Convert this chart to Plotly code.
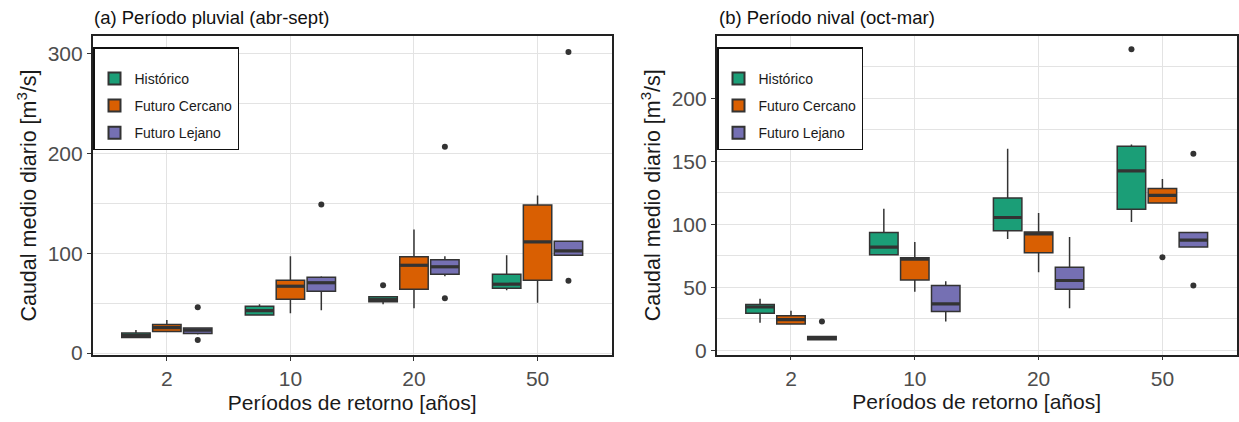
import plotly.graph_objects as go

# ---------------- data ----------------
periods = ["2", "10", "20", "50"]
series = ["Histórico", "Futuro Cercano", "Futuro Lejano"]
colors = ["#1B9E77", "#D95F02", "#7570B3"]

# (a) Período pluvial
pluv_hist_q1 = [15.5, 38, 51.5, 65]
pluv_hist_med = [17.5, 42.5, 53.5, 69]
pluv_hist_q3 = [20, 47, 56.5, 79]
pluv_hist_lo = [15, 37.5, 49, 63]
pluv_hist_hi = [23, 49, 57, 98]
pluv_hist_out = [[], [], [68], []]

pluv_cerc_q1 = [21.5, 54, 64, 73]
pluv_cerc_med = [25.5, 67, 88, 111.5]
pluv_cerc_q3 = [28.5, 73, 96.5, 148.5]
pluv_cerc_lo = [21, 40, 45, 50.5]
pluv_cerc_hi = [33, 97, 124, 158]
pluv_cerc_out = [[], [], [], []]

pluv_lej_q1 = [19.5, 62, 79, 98]
pluv_lej_med = [23, 70.5, 86.5, 102.5]
pluv_lej_q3 = [25, 76, 93.5, 112]
pluv_lej_lo = [18.5, 43, 77, 97.5]
pluv_lej_hi = [25.5, 77, 97, 112.5]
pluv_lej_out = [[46, 13], [149], [207, 55], [302, 72.5]]

# (b) Período nival
niv_hist_q1 = [29.5, 76, 95, 112]
niv_hist_med = [34.5, 82, 105.5, 142.5]
niv_hist_q3 = [36.5, 93.5, 121, 162]
niv_hist_lo = [22, 75.5, 88.5, 102]
niv_hist_hi = [41, 112.5, 160, 163.5]
niv_hist_out = [[], [], [], [239]]

niv_cerc_q1 = [21, 56, 77.5, 117]
niv_cerc_med = [24.5, 72.5, 92.5, 123]
niv_cerc_q3 = [27.5, 73.5, 94, 128.5]
niv_cerc_lo = [20.5, 46.5, 62, 116.5]
niv_cerc_hi = [31.5, 86, 109, 136]
niv_cerc_out = [[], [], [], [74]]

niv_lej_q1 = [8.5, 31, 48.5, 82]
niv_lej_med = [10, 37, 55.5, 87.5]
niv_lej_q3 = [11, 51.5, 66, 93.5]
niv_lej_lo = [8, 23, 33.5, 81.5]
niv_lej_hi = [11.5, 55, 90, 94]
niv_lej_out = [[23], [], [], [156, 51.5]]

pluvial = [
    (pluv_hist_q1, pluv_hist_med, pluv_hist_q3, pluv_hist_lo, pluv_hist_hi, pluv_hist_out),
    (pluv_cerc_q1, pluv_cerc_med, pluv_cerc_q3, pluv_cerc_lo, pluv_cerc_hi, pluv_cerc_out),
    (pluv_lej_q1, pluv_lej_med, pluv_lej_q3, pluv_lej_lo, pluv_lej_hi, pluv_lej_out),
]
nival = [
    (niv_hist_q1, niv_hist_med, niv_hist_q3, niv_hist_lo, niv_hist_hi, niv_hist_out),
    (niv_cerc_q1, niv_cerc_med, niv_cerc_q3, niv_cerc_lo, niv_cerc_hi, niv_cerc_out),
    (niv_lej_q1, niv_lej_med, niv_lej_q3, niv_lej_lo, niv_lej_hi, niv_lej_out),
]

# ---------------- style ----------------
W, H = 1239, 422
FONT = "Liberation Sans, Arial, sans-serif"
DODGE = 0.25
BOXW = 0.23
EDGE = "#333333"

fig = go.Figure()


def add_panel(stats, xref, yref, legend):
    for k, (q1, med, q3, lo, hi, out) in enumerate(stats):
        pos = [i + 1 + (k - 1) * DODGE for i in range(len(periods))]
        fig.add_trace(go.Box(
            x=pos, q1=q1, median=med, q3=q3, lowerfence=lo, upperfence=hi,
            width=BOXW, whiskerwidth=0, boxpoints=False,
            fillcolor=colors[k], line=dict(color=EDGE, width=1.5),
            name=series[k], legendgroup=f"{legend}_{k}", legend=legend,
            xaxis=xref, yaxis=yref, hoverinfo="skip",
        ))
        # thicker median line (ggplot style)
        mx, my = [], []
        for p, m in zip(pos, med):
            mx += [p - BOXW / 2, p + BOXW / 2, None]
            my += [m, m, None]
        fig.add_trace(go.Scatter(
            x=mx, y=my, mode="lines", line=dict(color=EDGE, width=3.2),
            showlegend=False, xaxis=xref, yaxis=yref, hoverinfo="skip",
        ))
        ox, oy = [], []
        for p, vals in zip(pos, out):
            for v in vals:
                ox.append(p)
                oy.append(v)
        if ox:
            fig.add_trace(go.Scatter(
                x=ox, y=oy, mode="markers",
                marker=dict(color=EDGE, size=6),
                showlegend=False, xaxis=xref, yaxis=yref, hoverinfo="skip",
            ))


add_panel(pluvial, "x", "y", "legend")
add_panel(nival, "x2", "y2", "legend2")

grid = "#E3E3E3"


def xaxis(domain, anchor):
    return dict(
        domain=domain, anchor=anchor, range=[0.4, 4.6], tickvals=[1, 2, 3, 4], ticktext=periods,
        automargin=False,
        showgrid=True, gridcolor=grid, gridwidth=1.3, zeroline=False,
        showline=True, mirror=True, linecolor="#222222", linewidth=1.6,
        ticks="outside", ticklen=4, tickcolor="#333333", tickwidth=1,
        tickfont=dict(family=FONT, size=21, color="#4D4D4D"),
        title=dict(text="Períodos de retorno [años]", standoff=6,
                   font=dict(family=FONT, size=21, color="#1A1A1A")),
    )


def yaxis(domain, anchor, rng, dtick, minor):
    return dict(
        domain=domain, anchor=anchor, range=rng, dtick=dtick, tick0=0,
        automargin=False,
        showgrid=True, gridcolor=grid, gridwidth=1.3, zeroline=False,
        minor=dict(dtick=minor, tick0=0, showgrid=True, gridcolor=grid, gridwidth=1.0, ticks=""),
        showline=True, mirror=True, linecolor="#222222", linewidth=1.6,
        ticks="outside", ticklen=4, tickcolor="#333333", tickwidth=1,
        tickfont=dict(family=FONT, size=21, color="#4D4D4D"),
        title=dict(text="Caudal medio diario [m<sup>3</sup>/s]", standoff=5,
                   font=dict(family=FONT, size=21.5, color="#1A1A1A")),
    )


legend_style = dict(
    xanchor="left", yanchor="top", bgcolor="white",
    bordercolor="#111111", borderwidth=1.5,
    font=dict(family=FONT, size=14, color="#1A1A1A"),
    title=dict(text=" ", font=dict(family=FONT, size=11)),
    tracegroupgap=6, itemsizing="constant",
)

fig.update_layout(
    width=W, height=H, margin=dict(l=0, r=0, t=0, b=0),
    paper_bgcolor="white", plot_bgcolor="white",
    xaxis=xaxis([92.7 / W, 611.7 / W], "y"),
    yaxis=yaxis([1 - 355 / H, 1 - 36 / H], "x", [-2, 318], 100, 50),
    xaxis2=xaxis([716.7 / W, 1236.7 / W], "y2"),
    yaxis2=yaxis([1 - 354.5 / H, 1 - 36 / H], "x2", [-3.2, 249.5], 50, 25),
    legend=dict(x=93 / W, y=1 - 47 / H, **legend_style),
    legend2=dict(x=717 / W, y=1 - 47 / H, **legend_style),
    showlegend=True,
    annotations=[
        dict(text="(a) Período pluvial (abr-sept)", x=92 / W, y=1 - 17 / H,
             xref="paper", yref="paper", xanchor="left", yanchor="middle",
             showarrow=False, font=dict(family=FONT, size=18.5, color="#111111")),
        dict(text="(b) Período nival (oct-mar)", x=717 / W, y=1 - 17 / H,
             xref="paper", yref="paper", xanchor="left", yanchor="middle",
             showarrow=False, font=dict(family=FONT, size=18.5, color="#111111")),
    ],
)

fig.write_html("out.html")
